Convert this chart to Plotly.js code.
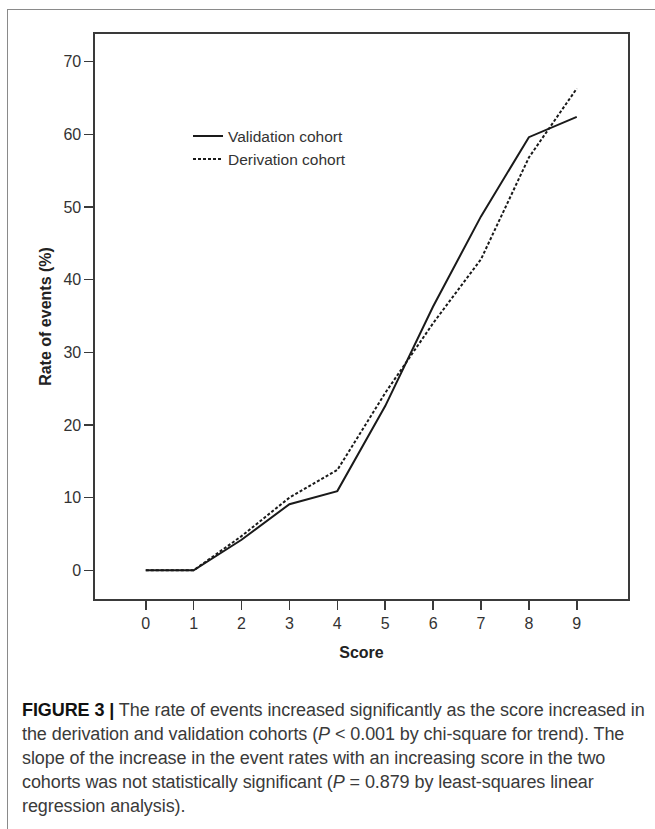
<!DOCTYPE html>
<html>
<head>
<meta charset="utf-8">
<script src="https://cdn.plot.ly/plotly-3.0.1.min.js"></script>
<style>
  html, body { margin: 0; padding: 0; width: 655px; height: 829px; overflow: hidden; background: #fff; }
  #frame { position: absolute; left: 7px; top: 9px; width: 700px; height: 900px;
           border-top: 1.5px solid #8a8a8a; border-left: 1.5px solid #8a8a8a; pointer-events: none; z-index: 5; }
  #chart { position: absolute; left: 0; top: 0; width: 655px; height: 680px; }
  #caption { position: absolute; left: 22px; top: 698px; white-space: nowrap;
             font-family: "Liberation Sans", Arial, sans-serif; font-size: 18px; line-height: 24px;
             letter-spacing: -0.08px; color: #3a3a3a; }
  #caption b { color: #111; }
</style>
</head>
<body>
<div id="chart"></div>
<div id="frame"></div>
<div id="caption">
<b>FIGURE 3 |</b> The rate of events increased significantly as the score increased in<br>
the derivation and validation cohorts (<i>P</i> &lt; 0.001 by chi-square for trend). The<br>
slope of the increase in the event rates with an increasing score in the two<br>
cohorts was not statistically significant (<i>P</i> = 0.879 by least-squares linear<br>
regression analysis).
</div>
<script>
// Data
const scores = [0, 1, 2, 3, 4, 5, 6, 7, 8, 9];
const validationRates = [0, 0, 4.2, 9.1, 10.9, 22.6, 36.3, 48.7, 59.6, 62.4];
const derivationRates = [0, 0, 4.7, 10.0, 13.8, 24.4, 34.0, 42.8, 56.8, 66.3];
const yTickVals = [0, 10, 20, 30, 40, 50, 60, 70];
const seriesNames = ["Validation cohort", "Derivation cohort"];

const traces = [
  { x: scores, y: validationRates, name: seriesNames[0], type: "scatter", mode: "lines",
    line: { color: "#1a1a1a", width: 2 } },
  { x: scores, y: derivationRates, name: seriesNames[1], type: "scatter", mode: "lines",
    line: { color: "#1a1a1a", width: 2, dash: "3px,2px" } }
];

const axisCommon = {
  showline: true, mirror: true, linecolor: "#3a3a3a", linewidth: 1.6,
  ticks: "outside", ticklen: 9, tickwidth: 1.5, tickcolor: "#3a3a3a",
  showgrid: false, zeroline: false,
  tickfont: { family: "Liberation Sans, Arial, sans-serif", size: 16, color: "#333" }
};

const layout = {
  width: 655, height: 680,
  margin: { l: 95, r: 27, t: 34, b: 81 },
  paper_bgcolor: "rgba(0,0,0,0)", plot_bgcolor: "#fff",
  showlegend: true,
  legend: {
    x: 0.1745, y: 0.849, xanchor: "left", yanchor: "top",
    bgcolor: "rgba(0,0,0,0)", borderwidth: 0,
    font: { family: "Liberation Sans, Arial, sans-serif", size: 15.5, color: "#333" },
    tracegroupgap: 0
  },
  xaxis: Object.assign({}, axisCommon, {
    range: [-1.06, 10.07], tickmode: "array", tickvals: scores,
    title: { text: "<b>Score</b>", standoff: 16,
             font: { family: "Liberation Sans, Arial, sans-serif", size: 16, color: "#222" } }
  }),
  yaxis: Object.assign({}, axisCommon, {
    range: [-3.95, 73.8], tickmode: "array", tickvals: yTickVals,
    title: { text: "<b>Rate of events (%)</b>", standoff: 8,
             font: { family: "Liberation Sans, Arial, sans-serif", size: 16, color: "#222" } }
  })
};

Plotly.newPlot("chart", traces, layout, { staticPlot: true, displayModeBar: false });
</script>
</body>
</html>
